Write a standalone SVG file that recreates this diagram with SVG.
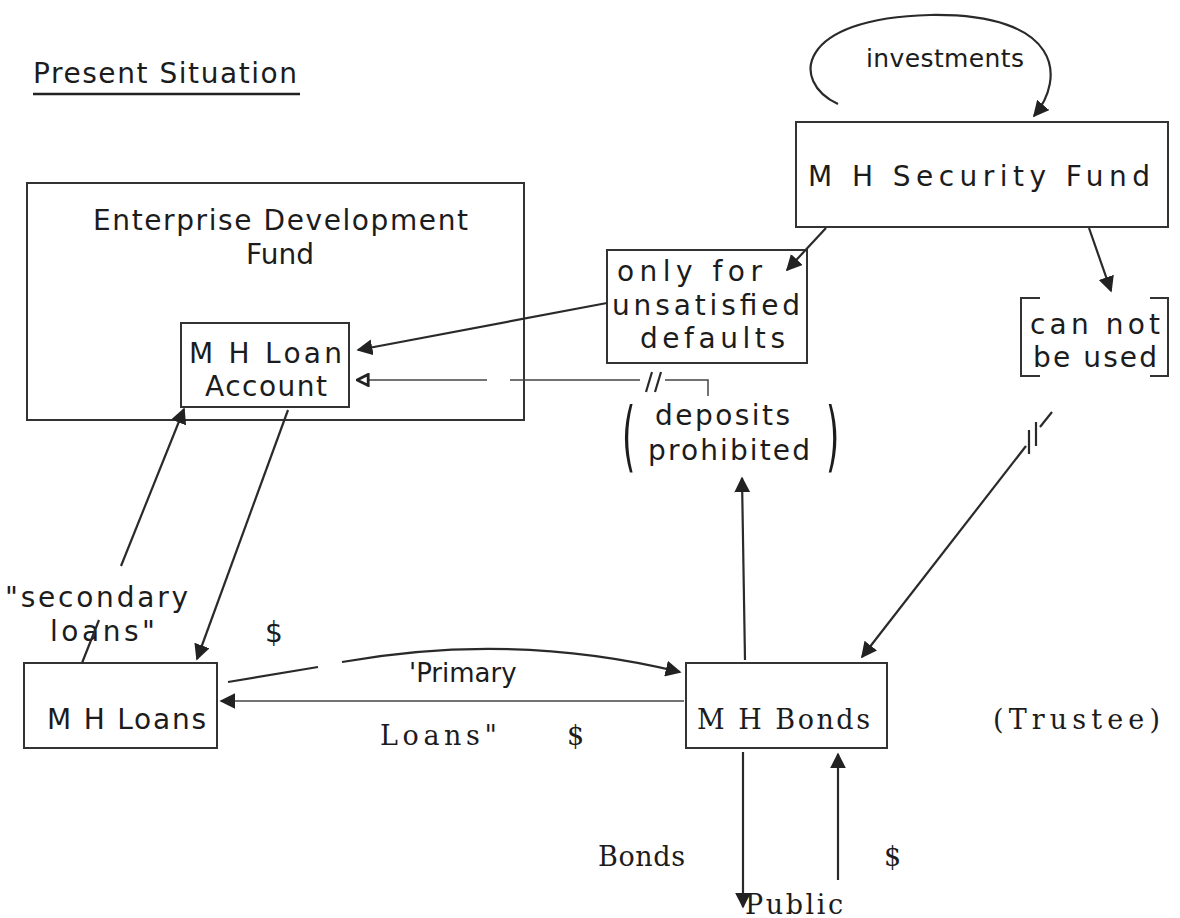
<svg xmlns="http://www.w3.org/2000/svg" width="1180" height="918" viewBox="0 0 1180 918">
<defs>
<style>
.t{font-family:"DejaVu Sans","Liberation Sans",sans-serif;font-size:28px;fill:#1c1c1c}
.s{font-family:"DejaVu Serif","Liberation Serif",serif;font-size:27px;fill:#1c1c1c}
.p{font-family:"DejaVu Sans","Liberation Sans",sans-serif;font-size:76px;fill:#1c1c1c}
.box{fill:none;stroke:#333;stroke-width:2}
.ln{fill:none;stroke:#2a2a2a;stroke-width:2.2}
.thin{fill:none;stroke:#444;stroke-width:1.5}
</style>
<marker id="ah" viewBox="0 0 10 10" refX="9" refY="5" markerWidth="16" markerHeight="16" markerUnits="userSpaceOnUse" orient="auto">
<path d="M0,0 L10,5 L0,10 z" fill="#222"/>
</marker>
<marker id="oh" viewBox="0 0 10 10" refX="9" refY="5" markerWidth="14" markerHeight="14" markerUnits="userSpaceOnUse" orient="auto">
<path d="M1,1 L9,5 L1,9 z" fill="#fff" stroke="#222" stroke-width="2"/>
</marker>
</defs>
<rect width="1180" height="918" fill="#fff"/>

<g id="title">
<text class="t" x="33" y="83" textLength="264" lengthAdjust="spacing">Present Situation</text>
<line x1="33" y1="94" x2="300" y2="94" stroke="#222" stroke-width="2.5"/>
</g>

<g id="security-fund">
<rect class="box" x="796" y="122" width="372" height="105"/>
<text class="t" x="808" y="186" textLength="342" lengthAdjust="spacing">M H  Security Fund</text>
</g>
<g id="investments">
<text class="t" x="866" y="67" textLength="158" lengthAdjust="spacing" style="font-size:25px">investments</text>
</g>

<g id="edf">
<rect class="box" x="27" y="183" width="497" height="237"/>
<text class="t" x="93" y="230" textLength="375" lengthAdjust="spacing">Enterprise Development</text>
<text class="t" x="280" y="264" text-anchor="middle">Fund</text>
</g>

<g id="loan-account">
<rect class="box" x="181" y="323" width="168" height="84"/>
<text class="t" x="189" y="363" textLength="153" lengthAdjust="spacing">M H Loan</text>
<text class="t" x="205" y="396" textLength="122" lengthAdjust="spacing">Account</text>
</g>

<g id="only-for">
<rect class="box" x="607" y="250" width="200" height="113"/>
<text class="t" x="617" y="281" textLength="145" lengthAdjust="spacing">only for</text>
<text class="t" x="612" y="315" textLength="188" lengthAdjust="spacing">unsatisfied</text>
<text class="t" x="640" y="348" textLength="145" lengthAdjust="spacing">defaults</text>
</g>

<g id="can-not">
<path class="box" d="M1040,298 H1021 V376 H1040 M1150,298 H1168 V376 H1150"/>
<text class="t" x="1030" y="334" textLength="130" lengthAdjust="spacing">can not</text>
<text class="t" x="1033" y="367" textLength="124" lengthAdjust="spacing">be used</text>
</g>

<g id="deposits">
<text class="p" x="622" y="462" transform="translate(622,0) scale(0.45,1) translate(-622,0)">(</text>
<text class="t" x="655" y="425" textLength="135" lengthAdjust="spacing">deposits</text>
<text class="t" x="648" y="460" textLength="162" lengthAdjust="spacing">prohibited</text>
<text class="p" x="826" y="462" transform="translate(826,0) scale(0.45,1) translate(-826,0)">)</text>
</g>

<g id="mh-loans">
<rect class="box" x="24" y="663" width="193" height="85"/>
<text class="t" x="47" y="729" textLength="159" lengthAdjust="spacing">M H Loans</text>
</g>

<g id="mh-bonds">
<rect class="box" x="686" y="663" width="201" height="85"/>
<text class="s" x="697" y="729" textLength="173" lengthAdjust="spacing">M H Bonds</text>
</g>

<g id="trustee">
<text class="s" x="993" y="729" textLength="167" lengthAdjust="spacing">(Trustee)</text>
</g>

<g id="public">
<text class="s" x="745" y="914" textLength="98" lengthAdjust="spacing">Public</text>
</g>

<g id="labels">
<text class="t" x="5" y="607" textLength="183" lengthAdjust="spacing">"secondary</text>
<text class="t" x="50" y="641" textLength="105" lengthAdjust="spacing">loans"</text>
<text class="t" x="265" y="642">$</text>
<text class="t" x="409" y="682" style="font-size:26px">'Primary</text>
<text class="s" x="380" y="745" textLength="117" lengthAdjust="spacing">Loans"</text>
<text class="s" x="567" y="745">$</text>
<text class="s" x="598" y="866" textLength="87" lengthAdjust="spacing">Bonds</text>
<text class="s" x="884" y="866">$</text>
</g>

<g id="connectors">
<path class="ln" d="M838,104 C790,82 796,18 930,15 C1062,13 1066,78 1034,116" marker-end="url(#ah)"/>
<line class="ln" x1="826" y1="228" x2="787" y2="270" marker-end="url(#ah)"/>
<line class="ln" x1="1089" y1="228" x2="1111" y2="291" marker-end="url(#ah)"/>
<line class="ln" x1="607" y1="303" x2="358" y2="350" marker-end="url(#ah)"/>
<path class="thin" d="M510,380 H640 M665,380 H708 V396"/>
<line class="thin" x1="487" y1="380" x2="357" y2="380" marker-end="url(#oh)"/>
<path class="ln" d="M646,392 L652,372 M655,392 L661,372"/>
<line class="ln" x1="745" y1="660" x2="742" y2="478" marker-end="url(#ah)"/>
<line class="ln" x1="1052" y1="412" x2="1040" y2="427"/>
<path class="ln" d="M1036,422 V446 M1029,430 V454"/>
<line class="ln" x1="1026" y1="446" x2="862" y2="657" marker-end="url(#ah)"/>
<line class="ln" x1="82" y1="663" x2="99" y2="620"/>
<line class="ln" x1="121" y1="566" x2="184" y2="409" marker-end="url(#ah)"/>
<line class="ln" x1="288" y1="410" x2="197" y2="659" marker-end="url(#ah)"/>
<path class="ln" d="M228,682 L318,667"/>
<path class="ln" d="M342,662 C420,648 540,638 680,672" marker-end="url(#ah)"/>
<line class="thin" x1="684" y1="701" x2="221" y2="701" marker-end="url(#ah)"/>
<line class="ln" x1="743" y1="752" x2="743" y2="907" marker-end="url(#ah)"/>
<line class="ln" x1="838" y1="880" x2="838" y2="754" marker-end="url(#ah)"/>
</g>
</svg>
